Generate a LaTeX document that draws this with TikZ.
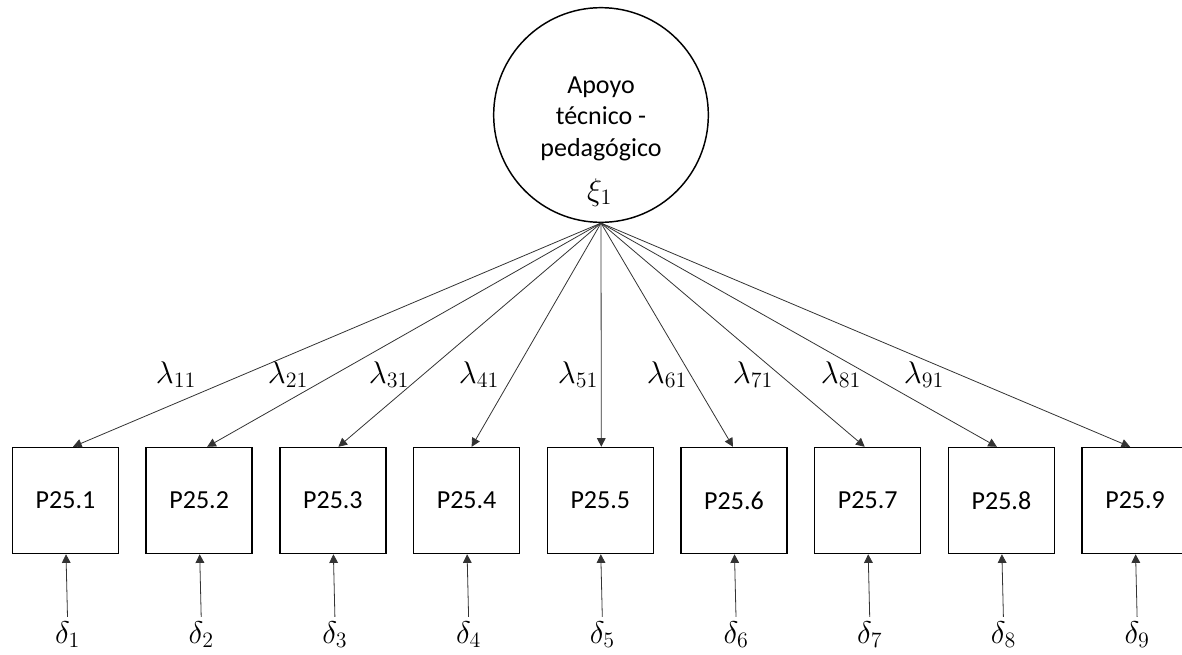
\documentclass[tikz,border=0pt]{standalone}
\usepackage{fix-cm}
\usepackage[no-math]{fontspec}
\setmainfont{Carlito}
\usetikzlibrary{arrows.meta,calc}

\begin{document}
\begin{tikzpicture}[x=0.75pt,y=-0.75pt,
  every node/.style={inner sep=0pt},
  latent/.style={circle,draw,line width=1.1pt,minimum size=161pt},
  indicator/.style={rectangle,draw,line width=1.1pt,minimum size=79.5pt,
    font=\fontsize{19.5}{23}\selectfont},
  factortext/.style={anchor=base,font=\fontsize{19.5}{23}\selectfont},
  mathlabel/.style={anchor=base,font=\fontsize{23.5}{28}\selectfont},
  loading/.style={-{Triangle[length=6.5pt,width=6.5pt]},line width=0.6pt,draw=black!80},
  errpath/.style={-{Triangle[length=6.5pt,width=6.5pt]},line width=0.6pt,draw=black!80},
]
\path[use as bounding box,clip] (0,0) rectangle (1182,654);

% latent factor
\node[latent] (F) at (601,115) {};
\node[factortext] (t1) at (601,93) {Apoyo};
\node[factortext] (t2) at (601,124.5) {técnico -};
\node[factortext] (t3) at (601,156) {pedagógico};
\node[mathlabel] (xi) at (599.5,200) {$\xi_1$};

% indicators with their error terms
\foreach \i in {1,...,9}{
  \node[indicator] (P\i) at ({65.5+(\i-1)*133.7},500.5) {P25.\i};
  \node[mathlabel] (d\i) at ({67.5+(\i-1)*133.7},643) {$\delta_{\i}$};
  \draw[errpath] ($(d\i.north)+(0,-4)$) -- ($(P\i.south)+(0.5,0)$);
}

% factor loadings
\foreach \i/\off/\lx in {1/7.5/176,2/8/288,3/5.5/389,4/5/479,5/1/578,
                         6/-1/667,7/-3/753,8/-4.5/841,9/-5/924}{
  \draw[loading] (F.south) -- ($(P\i.north)+(\off,0)$);
  \node[mathlabel] (l\i) at (\lx,383) {$\lambda_{\i1}$};
}
\end{tikzpicture}
\end{document}
